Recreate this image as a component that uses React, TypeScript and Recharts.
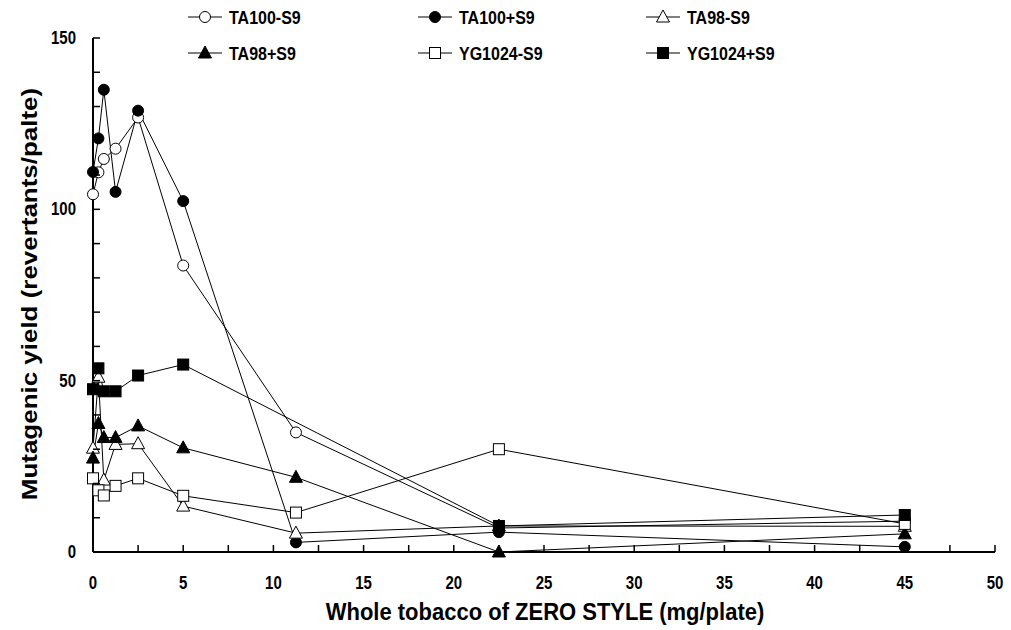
import React from 'react';
import { LineChart, Line, XAxis, YAxis } from 'recharts';

// dose points (mg/plate)
const doses = [0, 0.3, 0.6, 1.25, 2.5, 5, 11.25, 22.5, 45];

// revertants/plate
const ta100Minus = [104.4, 110.8, 114.7, 117.7, 126.8, 83.6, 34.9, 7, 9];
const ta100Plus = [110.9, 120.7, 134.9, 105.1, 128.8, 102.4, 2.8, 5.8, 1.5];
const ta98Minus = [30.3, 51, 21, 31.4, 31.6, 13.4, 5.5, 7.6, 7.5];
const ta98Plus = [27.4, 37.5, 33.4, 33.4, 36.8, 30.4, 21.8, 0, 5.3];
const yg1024Minus = [21.5, 18, 16.5, 19.3, 21.5, 16.4, 11.5, 30, 8.2];
const yg1024Plus = [47.5, 53.6, 46.9, 46.9, 51.5, 54.7, null, 7.6, 10.8];

const xTicks = [0, 2.5, 5, 7.5, 10, 12.5, 15, 17.5, 20, 22.5, 25, 27.5, 30, 32.5, 35, 37.5, 40, 42.5, 45, 47.5, 50];
const yTicks = [0, 10, 20, 30, 40, 50, 60, 70, 80, 90, 100, 110, 120, 130, 140, 150];

type Kind = 'circleOpen' | 'circleFilled' | 'triOpen' | 'triFilled' | 'sqOpen' | 'sqFilled';

const series: { key: string; name: string; kind: Kind; values: (number | null)[] }[] = [
  { key: 'ta100m', name: 'TA100-S9', kind: 'circleOpen', values: ta100Minus },
  { key: 'ta100p', name: 'TA100+S9', kind: 'circleFilled', values: ta100Plus },
  { key: 'ta98m', name: 'TA98-S9', kind: 'triOpen', values: ta98Minus },
  { key: 'ta98p', name: 'TA98+S9', kind: 'triFilled', values: ta98Plus },
  { key: 'ygm', name: 'YG1024-S9', kind: 'sqOpen', values: yg1024Minus },
  { key: 'ygp', name: 'YG1024+S9', kind: 'sqFilled', values: yg1024Plus },
];

const data = doses.map((d, i) => {
  const row: Record<string, number | null> = { dose: d };
  series.forEach(s => { row[s.key] = s.values[i]; });
  return row;
});

const FONT = '"Liberation Sans", Arial, sans-serif';

const Marker = ({ kind, cx, cy }: { kind: Kind; cx: number; cy: number }) => {
  const filled = kind.endsWith('Filled');
  const fill = filled ? '#000' : '#fff';
  if (kind.startsWith('circle')) {
    return <circle cx={cx} cy={cy} r={5.5} fill={fill} stroke="#000" strokeWidth={1} />;
  }
  if (kind.startsWith('tri')) {
    const pts = `${cx},${cy - 7} ${cx - 6.5},${cy + 5} ${cx + 6.5},${cy + 5}`;
    return <polygon points={pts} fill={fill} stroke="#000" strokeWidth={1} />;
  }
  return <rect x={cx - 5.5} y={cy - 5.5} width={11} height={11} fill={fill} stroke="#000" strokeWidth={1} />;
};

// the scanned figure is a little stretched vertically, so texts get a scaleY
const Txt = ({ x, y, anchor, size, sy, children }: any) => (
  <text
    x={0}
    y={0}
    transform={`translate(${x},${y}) scale(1,${sy})`}
    textAnchor={anchor}
    fontFamily={FONT}
    fontWeight="bold"
    fontSize={size}
    fill="#000"
  >
    {children}
  </text>
);

const XTick = (props: any) => {
  const { x, y, payload } = props;
  const v = payload.value;
  return (
    <g>
      <line x1={x} x2={x} y1={y} y2={y - 7} stroke="#000" strokeWidth={1.5} />
      {v % 5 === 0 && (
        <Txt x={x} y={y + 37} anchor="middle" size={15} sy={1.2}>
          {v}
        </Txt>
      )}
    </g>
  );
};

const YTick = (props: any) => {
  const { x, y, payload } = props;
  const v = payload.value;
  return (
    <g>
      <line x1={x} x2={x + 7} y1={y} y2={y} stroke="#000" strokeWidth={1.5} />
      {v % 50 === 0 && (
        <Txt x={x - 17} y={y + 6} anchor="end" size={15} sy={1.2}>
          {v}
        </Txt>
      )}
    </g>
  );
};

const XTitle = () => (
  <Txt x={545} y={620} anchor="middle" size={22} sy={1.12}>
    Whole tobacco of ZERO STYLE (mg/plate)
  </Txt>
);

const YTitle = () => (
  <text
    x={0}
    y={0}
    transform="translate(37,294) scale(1,1.18) rotate(-90)"
    textAnchor="middle"
    fontFamily={FONT}
    fontWeight="bold"
    fontSize={22}
    fill="#000"
  >
    Mutagenic yield (revertants/palte)
  </text>
);

const legendCols = [188, 418, 646];
const legendRows = [17, 53];

const LegendBox = () => (
  <svg width={1011} height={75} style={{ position: 'absolute', left: 0, top: 0 }}>
    {series.map((s, i) => {
      const lx = legendCols[i % 3];
      const ly = legendRows[Math.floor(i / 3)];
      return (
        <g key={s.key}>
          <line x1={lx} x2={lx + 34} y1={ly} y2={ly} stroke="#000" strokeWidth={1} />
          <Marker kind={s.kind} cx={lx + 17} cy={ly} />
          <Txt x={lx + 41} y={ly + 7} anchor="start" size={16} sy={1.15}>
            {s.name}
          </Txt>
        </g>
      );
    })}
  </svg>
);

export default function App() {
  return (
    <div style={{ position: 'absolute', left: 0, top: 0, width: 1011, height: 630, background: '#fff' }}>
      <LineChart width={1011} height={630} data={data} margin={{ top: 38, right: 16, bottom: 38, left: 33 }}>
        <XAxis
          dataKey="dose"
          type="number"
          domain={[0, 50]}
          ticks={xTicks}
          interval={0}
          tickSize={0}
          tickMargin={0}
          tickLine={false}
          tick={<XTick />}
          axisLine={{ stroke: '#000', strokeWidth: 2 }}
          height={40}
          label={<XTitle />}
        />
        <YAxis
          type="number"
          domain={[0, 150]}
          ticks={yTicks}
          interval={0}
          tickSize={0}
          tickMargin={0}
          tickLine={false}
          tick={<YTick />}
          axisLine={{ stroke: '#000', strokeWidth: 2 }}
          width={60}
          label={<YTitle />}
        />
        {series.map(s => (
          <Line
            key={s.key}
            dataKey={s.key}
            name={s.name}
            type="linear"
            stroke="#000"
            strokeWidth={1}
            connectNulls
            isAnimationActive={false}
            dot={(p: any) =>
              p.cy == null || p.value == null ? (
                <g key={`${s.key}-${p.index}`} />
              ) : (
                <Marker key={`${s.key}-${p.index}`} kind={s.kind} cx={p.cx} cy={p.cy} />
              )
            }
            activeDot={false}
          />
        ))}
      </LineChart>
      <LegendBox />
    </div>
  );
}
